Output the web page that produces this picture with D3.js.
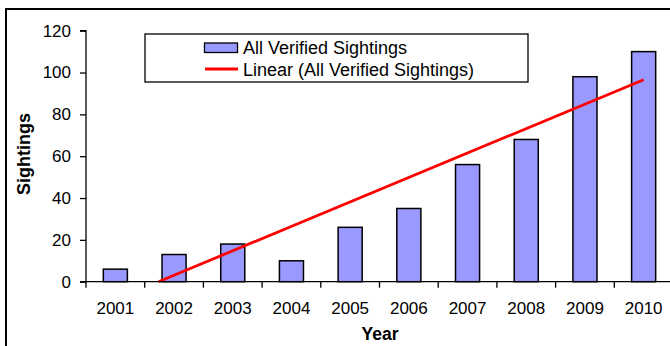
<!DOCTYPE html>
<html>
<head>
<meta charset="utf-8">
<script src="https://cdn.jsdelivr.net/npm/d3@7"></script>
<style>
  html, body { margin: 0; padding: 0; background: #fff; }
  svg { display: block; font-family: "Liberation Sans", Arial, sans-serif; }
</style>
</head>
<body>
<svg id="chart" width="670" height="346"></svg>
<script>
// Verified sightings per year
const years = ["2001", "2002", "2003", "2004", "2005", "2006", "2007", "2008", "2009", "2010"];
const sightings = [6, 13, 18, 10, 26, 35, 56, 68, 98, 110];
const yTicks = [0, 20, 40, 60, 80, 100, 120];
const seriesName = "All Verified Sightings";
const trendName = "Linear (All Verified Sightings)";

const svg = d3.select("#chart");

// plot area
const plotLeft = 86, plotTop = 30.7, plotBottom = 281.7;
const step = 58.7;
const plotRight = plotLeft + step * years.length;

const x = d3.scaleBand().domain(years).range([plotLeft, plotRight]).paddingInner(0.59).paddingOuter(0.295);
const y = d3.scaleLinear().domain([0, 120]).range([plotBottom, plotTop]);

// outer chart frame (only left and top edges fall inside the view)
svg.append("rect")
  .attr("x", 6).attr("y", 9)
  .attr("width", 700).attr("height", 400)
  .attr("fill", "none").attr("stroke", "#000").attr("stroke-width", 2);

// bars
svg.append("g").selectAll("rect")
  .data(years.map((yr, i) => ({ yr, v: sightings[i] })))
  .join("rect")
  .attr("x", d => x(d.yr))
  .attr("y", d => y(d.v))
  .attr("width", x.bandwidth())
  .attr("height", d => y(0) - y(d.v))
  .attr("fill", "#9999FF")
  .attr("stroke", "#000")
  .attr("stroke-width", 1.5);

// least-squares trend over year index 1..n
const n = sightings.length;
const xs = d3.range(1, n + 1);
const mx = d3.mean(xs), my = d3.mean(sightings);
const slope = d3.sum(xs, (xi, i) => (xi - mx) * (sightings[i] - my)) / d3.sum(xs, xi => (xi - mx) ** 2);
const intercept = my - slope * mx;
const idxToPx = idx => x(years[0]) + x.bandwidth() / 2 + (idx - 1) * step;
// clip at the axis minimum (0)
const startIdx = Math.max(1, -intercept / slope);
const trendPts = [startIdx, n].map(idx => [idxToPx(idx), y(intercept + slope * idx)]);
svg.append("path")
  .attr("d", d3.line()(trendPts))
  .attr("stroke", "#FF0000")
  .attr("stroke-width", 2.8)
  .attr("fill", "none");

// y axis
const yAxis = svg.append("g")
  .attr("transform", `translate(${plotLeft},0)`)
  .call(d3.axisLeft(y).tickValues(yTicks).tickSize(6).tickPadding(9).tickFormat(d3.format("d")));
yAxis.select(".domain").attr("stroke", "#000").attr("stroke-width", 1.3).attr("d", `M-6,${plotTop}H0V${plotBottom}H-6`);
yAxis.selectAll(".tick line").attr("stroke", "#000").attr("stroke-width", 1.3);
yAxis.selectAll("text").attr("font-size", 17).attr("fill", "#000").attr("font-family", "Liberation Sans, Arial, sans-serif");

// x axis: tick marks sit on category boundaries
svg.append("line")
  .attr("x1", plotLeft).attr("x2", plotRight)
  .attr("y1", plotBottom).attr("y2", plotBottom)
  .attr("stroke", "#000").attr("stroke-width", 1.3);
svg.append("g").selectAll("line")
  .data(d3.range(years.length + 1))
  .join("line")
  .attr("x1", i => plotLeft + i * step).attr("x2", i => plotLeft + i * step)
  .attr("y1", plotBottom).attr("y2", plotBottom + 6)
  .attr("stroke", "#000").attr("stroke-width", 1.3);
svg.append("g").selectAll("text")
  .data(years)
  .join("text")
  .attr("x", d => x(d) + x.bandwidth() / 2)
  .attr("y", 314)
  .attr("text-anchor", "middle")
  .attr("font-size", 17)
  .text(d => d);

// axis titles
svg.append("text")
  .attr("x", 380).attr("y", 340)
  .attr("text-anchor", "middle")
  .attr("font-size", 17.5).attr("font-weight", "bold")
  .text("Year");
svg.append("text")
  .attr("transform", "translate(29.5,154) rotate(-90)")
  .attr("text-anchor", "middle")
  .attr("font-size", 18).attr("font-weight", "bold")
  .text("Sightings");

// legend
const legend = svg.append("g");
legend.append("rect")
  .attr("x", 145).attr("y", 34)
  .attr("width", 383).attr("height", 48)
  .attr("fill", "#fff").attr("stroke", "#000").attr("stroke-width", 1.3);
legend.append("rect")
  .attr("x", 204.5).attr("y", 43)
  .attr("width", 33).attr("height", 9.5)
  .attr("fill", "#9999FF").attr("stroke", "#000").attr("stroke-width", 1.3);
legend.append("line")
  .attr("x1", 205).attr("x2", 238)
  .attr("y1", 69).attr("y2", 69)
  .attr("stroke", "#FF0000").attr("stroke-width", 2.8);
legend.append("text")
  .attr("x", 243).attr("y", 54)
  .attr("font-size", 18)
  .text(seriesName);
legend.append("text")
  .attr("x", 243).attr("y", 75.5)
  .attr("font-size", 18)
  .text(trendName);
</script>
</body>
</html>
